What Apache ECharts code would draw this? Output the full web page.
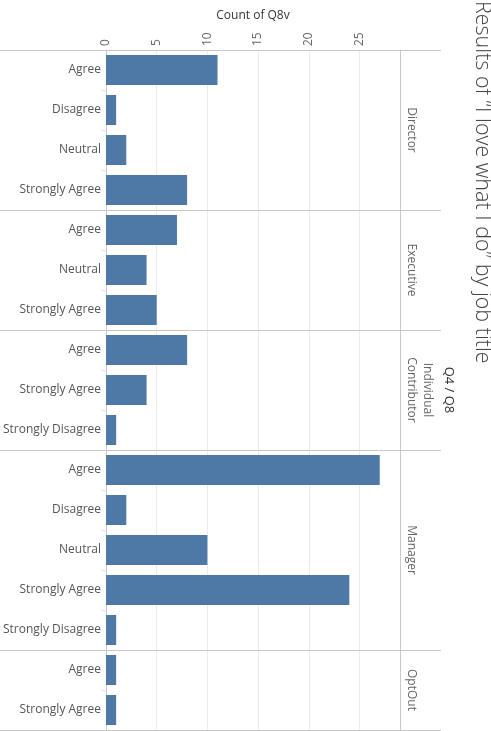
<!DOCTYPE html>
<html><head><meta charset="utf-8">
<script src="https://cdn.jsdelivr.net/npm/echarts@6/dist/echarts.min.js"></script>
<style>html,body{margin:0;padding:0;background:#fff}#c{width:491px;height:731px}</style>
</head><body><div id="c"></div>
<script>
// ---- data ----
const panelNames = ['Director', 'Executive', 'Individual\nContributor', 'Manager', 'OptOut'];
const directorCats = ['Agree', 'Disagree', 'Neutral', 'Strongly Agree'];
const directorVals = [11, 1, 2, 8];
const executiveCats = ['Agree', 'Neutral', 'Strongly Agree'];
const executiveVals = [7, 4, 5];
const contributorCats = ['Agree', 'Strongly Agree', 'Strongly Disagree'];
const contributorVals = [8, 4, 1];
const managerCats = ['Agree', 'Disagree', 'Neutral', 'Strongly Agree', 'Strongly Disagree'];
const managerVals = [27, 2, 10, 24, 1];
const optOutCats = ['Agree', 'Strongly Agree'];
const optOutVals = [1, 1];
const xTickStep = 5;
const xMax = 29;
const titleText = 'Results of \u201cI love what I do\u201d by job title';
const xAxisTitle = 'Count of Q8v';
const facetHeader = 'Q4 / Q8';

// ---- layout ----
const panels = [
  [directorCats, directorVals], [executiveCats, executiveVals],
  [contributorCats, contributorVals], [managerCats, managerVals],
  [optOutCats, optOutVals]
];
const FONT = '"Open Sans", Lato, sans-serif';
const TOP = 50, ROW = 40, LEFT = 106, PLOT_W = 294, SEP_RIGHT = 441;
const BAR = '#4e79a7', SEP = '#c8c8c8';

const chart = echarts.init(document.getElementById('c'), null, {renderer: 'canvas'});
const grid = [], xAxis = [], yAxis = [], series = [], graphic = [];
let start = 0;
const boundaries = [TOP];
panels.forEach(([cats, vals], i) => {
  const top = TOP + ROW * start;
  const h = ROW * cats.length;
  grid.push({left: LEFT, top: top, width: PLOT_W, height: h, containLabel: false});
  xAxis.push({
    type: 'value', gridIndex: i, min: 0, max: xMax, interval: xTickStep, position: 'top',
    axisLine: {show: false}, axisTick: {show: false},
    axisLabel: {show: i === 0, rotate: -90, color: '#666', fontSize: 12, fontFamily: FONT, margin: 4, showMaxLabel: false},
    splitLine: {show: true, lineStyle: {color: '#ececec', width: 1}},
    name: i === 0 ? xAxisTitle : '', nameLocation: 'middle', nameGap: 28,
    nameTextStyle: {color: '#333', fontSize: 12, fontFamily: FONT}
  });
  yAxis.push({
    type: 'category', gridIndex: i, data: cats, inverse: true,
    axisLine: {show: true, lineStyle: {color: SEP}},
    axisTick: {show: true, length: 5, lineStyle: {color: '#e6e6e6'}},
    axisLabel: {color: '#555', fontSize: 12, fontFamily: FONT, margin: 5},
    splitLine: {show: false}
  });
  series.push({
    type: 'bar', xAxisIndex: i, yAxisIndex: i, data: vals, barWidth: 30,
    itemStyle: {color: BAR}, silent: true
  });
  start += cats.length;
  boundaries.push(TOP + ROW * start);
});
panels.forEach(([cats], i) => {
  yAxis.push({
    type: 'category', gridIndex: i, data: cats, inverse: true, position: 'right',
    axisLine: {show: true, lineStyle: {color: SEP}},
    axisTick: {show: false}, axisLabel: {show: false}, splitLine: {show: false},
    name: panelNames[i], nameLocation: 'middle', nameRotate: -90, nameGap: 3,
    nameTextStyle: {color: '#666', fontSize: 12, fontFamily: FONT, lineHeight: 16}
  });
});
boundaries.forEach(y => {
  graphic.push({type: 'line', silent: true, shape: {x1: 0, y1: y + 0.5, x2: SEP_RIGHT, y2: y + 0.5},
    style: {stroke: SEP, lineWidth: 1}, z: 10});
});
graphic.push({type: 'text', x: 482, y: 1, rotation: -Math.PI / 2,
  style: {text: titleText, fill: '#444', font: '300 21.5px ' + FONT, textAlign: 'left', textVerticalAlign: 'middle'}});
graphic.push({type: 'text', x: 449, y: 390, rotation: -Math.PI / 2,
  style: {text: facetHeader, fill: '#333', font: '13px ' + FONT, textAlign: 'center', textVerticalAlign: 'middle'}});

chart.setOption({
  animation: false,
  backgroundColor: '#fff',
  textStyle: {fontFamily: FONT},
  grid, xAxis, yAxis, series, graphic
});
</script>
</body></html>
